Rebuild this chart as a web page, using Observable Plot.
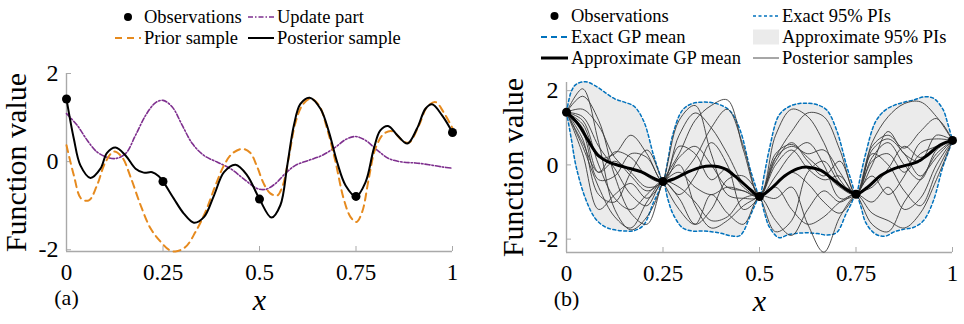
<!DOCTYPE html>
<html><head><meta charset="utf-8">
<script src="https://cdn.jsdelivr.net/npm/d3@7"></script>
<script src="https://cdn.jsdelivr.net/npm/@observablehq/plot@0.6"></script>
<style>
body{margin:0;background:#fff;}
#wrap{position:relative;width:964px;height:324px;font-family:"Liberation Serif",serif;background:#fff;overflow:hidden;}
#wrap svg, #wrap svg text{font-family:"Liberation Serif",serif !important;}
.panel{position:absolute;top:0;}
#legend{position:absolute;left:0;top:0;pointer-events:none;}
</style></head><body><div id="wrap"></div>
<script>
// ---------- data ----------
const xTicks = [0, 0.25, 0.5, 0.75, 1];
const yTicks = [-2, 0, 2];
const obsX = [0, 0.25, 0.5, 0.75, 1];
const obsY = [1.42, -0.45, -0.85, -0.79, 0.66];

// panel (a)
const postX = [0,0.019,0.036,0.062,0.088,0.105,0.127,0.153,0.179,0.2,0.222,0.239,0.25,0.278,0.304,0.33,0.356,0.382,0.408,0.438,0.468,0.5,0.531,0.554,0.572,0.589,0.606,0.63,0.658,0.68,0.701,0.723,0.75,0.775,0.796,0.813,0.833,0.857,0.883,0.908,0.93,0.947,0.973,1];
const postY = [1.42,0.52,-0.085,-0.37,-0.16,0.2,0.32,0.14,-0.16,-0.25,-0.24,-0.33,-0.45,-0.84,-1.18,-1.385,-1.26,-0.77,-0.24,-0.07,-0.31,-0.85,-1.27,-0.99,-0.085,0.82,1.31,1.45,1.2,0.67,-0.01,-0.54,-0.79,-0.46,0.29,0.71,0.81,0.6,0.41,0.75,1.2,1.3,1.05,0.66];
const priorX = [0,0.019,0.038,0.058,0.079,0.101,0.123,0.144,0.166,0.192,0.218,0.244,0.265,0.282,0.308,0.334,0.36,0.386,0.408,0.429,0.455,0.476,0.494,0.511,0.528,0.546,0.56,0.576,0.593,0.611,0.632,0.654,0.675,0.697,0.718,0.736,0.751,0.766,0.783,0.8,0.822,0.844,0.87,0.887,0.913,0.934,0.956,0.977,1];
const priorY = [0.37,-0.31,-0.84,-0.88,-0.54,-0.01,0.23,0.1,-0.35,-0.99,-1.52,-1.82,-2.0,-2.04,-1.94,-1.6,-1.14,-0.54,-0.085,0.18,0.29,0.2,-0.12,-0.5,-0.72,-0.77,-0.55,0.1,0.88,1.28,1.43,1.28,0.75,-0.01,-0.84,-1.26,-1.37,-1.14,-0.39,0.29,0.63,0.69,0.48,0.43,0.82,1.24,1.35,1.12,0.76];
const updateX = [0,0.028,0.054,0.079,0.105,0.127,0.153,0.179,0.205,0.231,0.25,0.274,0.3,0.326,0.356,0.39,0.425,0.459,0.494,0.516,0.541,0.567,0.593,0.628,0.662,0.697,0.723,0.749,0.775,0.805,0.835,0.87,0.904,0.939,0.973,1];
const updateY = [1.09,0.82,0.48,0.22,0.1,0.07,0.18,0.6,1.05,1.34,1.39,1.24,0.82,0.41,0.14,-0.01,-0.16,-0.39,-0.61,-0.63,-0.5,-0.27,-0.085,0.03,0.14,0.33,0.5,0.57,0.48,0.26,0.07,-0.01,-0.03,-0.07,-0.12,-0.15];

// panel (b)
const meanX = [0,0.03,0.056,0.082,0.108,0.151,0.194,0.228,0.25,0.28,0.315,0.349,0.375,0.409,0.444,0.478,0.5,0.53,0.565,0.599,0.625,0.659,0.694,0.728,0.75,0.78,0.815,0.849,0.884,0.909,0.935,0.97,1];
const meanY = [1.42,1.1,0.66,0.26,0.08,-0.06,-0.19,-0.37,-0.45,-0.37,-0.19,-0.06,-0.03,-0.1,-0.37,-0.68,-0.85,-0.64,-0.3,-0.1,-0.06,-0.15,-0.42,-0.68,-0.79,-0.6,-0.28,-0.1,0.0,0.08,0.26,0.55,0.66];
const piX = [0,0.0125,0.025,0.05,0.075,0.1,0.125,0.15,0.175,0.2,0.225,0.2375,0.25,0.2625,0.275,0.3,0.325,0.35,0.375,0.4,0.425,0.45,0.475,0.4875,0.5,0.5125,0.525,0.55,0.575,0.6,0.625,0.65,0.675,0.7,0.725,0.7375,0.75,0.7625,0.775,0.8,0.825,0.85,0.875,0.9,0.925,0.95,0.975,0.9875,1];
const piUpper = [1.42,1.98,2.17,2.24,2.13,1.95,1.78,1.69,1.58,1.18,0.28,-0.12,-0.45,0.12,0.8,1.47,1.65,1.69,1.68,1.61,1.44,0.93,-0.08,-0.5,-0.85,-0.25,0.4,1.33,1.56,1.65,1.66,1.62,1.47,0.93,0.0,-0.42,-0.79,-0.25,0.3,1.15,1.47,1.61,1.69,1.75,1.83,1.8,1.5,1.12,0.66];
const piLower = [1.42,0.7,-0.05,-0.93,-1.45,-1.67,-1.75,-1.78,-1.77,-1.62,-1.02,-0.75,-0.45,-0.92,-1.3,-1.69,-1.78,-1.78,-1.8,-1.84,-1.91,-1.9,-1.4,-1.1,-0.85,-1.28,-1.66,-1.96,-1.88,-1.84,-1.83,-1.85,-1.89,-1.82,-1.3,-1.05,-0.79,-1.12,-1.55,-1.86,-1.92,-1.8,-1.73,-1.68,-1.5,-0.98,-0.05,0.3,0.66];
const sampleX = [0,0.0417,0.0833,0.125,0.1667,0.2083,0.25,0.2917,0.3333,0.375,0.4167,0.4583,0.5,0.5417,0.5833,0.625,0.6667,0.7083,0.75,0.7917,0.8333,0.875,0.9167,0.9583,1];
const sample1 = [1.42,2.05,0.6,-1.2,-1.75,-1.4,-0.45,1.2,1.6,0.3,-0.8,-0.9,-0.85,0.8,1.5,1.3,0.6,-0.4,-0.79,0.6,1.3,1.65,1.7,1.3,0.66];
const sample2 = [1.42,1.85,1.2,-0.3,-1.3,-1.6,-0.45,0.3,1.2,1.6,1.75,0.4,-0.85,0.2,0.9,1.4,1.3,0.4,-0.79,0.5,0.8,0.45,0.9,1.25,0.66];
const sample3 = [1.42,1.5,1.05,0.2,-0.2,-0.6,-0.45,0.8,1.4,1.0,0.3,-0.5,-0.85,0.3,0.55,0.2,-0.2,-0.6,-0.79,0.4,0.7,0.3,-0.3,0.3,0.66];
const sample4 = [1.42,1.2,0.0,-0.9,-1.2,-0.8,-0.45,-0.9,-1.6,-1.2,-0.4,-0.3,-0.85,-1.8,-1.5,-0.2,0.1,-0.5,-0.79,-1.6,-1.8,-1.0,-0.4,0.2,0.66];
const sample5 = [1.42,0.9,-0.4,-0.3,0.3,0.2,-0.45,-0.3,0.2,1.0,1.5,0.5,-0.85,0.0,0.4,-0.1,-0.4,-0.3,-0.79,0.2,0.6,0.0,-0.4,0.4,0.66];
const sample6 = [1.42,0.7,-0.8,-1.0,-0.2,0.4,-0.45,-1.2,-1.6,-0.8,-1.3,-1.6,-0.85,-0.9,-0.6,-1.6,-2.35,-1.4,-0.79,-0.6,-0.1,0.5,0.2,0.5,0.66];
const sample7 = [1.42,1.0,-0.2,0.35,0.2,-0.3,-0.45,0.2,0.5,0.0,-0.6,-0.7,-0.85,0.2,0.5,0.3,0.4,-0.2,-0.79,0.3,0.0,-0.7,-1.1,-0.2,0.66];
const sample8 = [1.42,0.5,-0.6,-1.4,-1.7,-1.0,-0.45,-0.6,-1.0,-1.5,-1.4,-0.9,-0.85,-1.5,-1.9,-1.2,-0.7,-1.0,-0.79,-1.3,-1.5,-1.7,-1.3,-0.4,0.66];
const sample9 = [1.42,1.1,0.2,0.3,0.8,0.3,-0.45,0.5,0.3,-0.4,-0.1,-0.6,-0.85,-0.3,0.3,0.6,0.0,-0.9,-0.79,0.0,0.9,0.3,0.1,0.8,0.66];
const sample10 = [1.42,0.6,-0.2,0.1,-0.3,-0.7,-0.45,-0.2,-0.6,-0.8,-0.6,-0.7,-0.85,-0.5,-0.2,-0.5,-1.0,-1.3,-0.79,-0.3,-0.8,-0.3,0.6,0.7,0.66];
const sample11 = [1.42,1.3,0.5,-0.1,-0.8,-1.1,-0.45,-0.8,-0.3,0.6,0.0,-1.2,-0.85,0.1,0.6,0.1,-0.3,0.1,-0.79,0.1,0.3,-0.2,0.3,0.5,0.66];
const sample12 = [1.42,0.3,-1.2,-0.8,-0.5,-0.9,-0.45,0.0,-1.1,-1.7,-1.5,-1.1,-0.85,-0.6,-1.2,-1.6,-1.4,-1.0,-0.79,-1.0,-0.6,-1.2,-0.9,0.0,0.66];
const samples = [sample1,sample2,sample3,sample4,sample5,sample6,sample7,sample8,sample9,sample10,sample11,sample12];

// ---------- helpers ----------
const pts = (xs, ys) => xs.map((x, i) => ({x, y: ys[i]}));
const grey = "#a9a9a9";
const orange = "#e68a1e", purple = "#7e2f8e", blue = "#0072bd";
const font = "Liberation Serif";
const fmt = d => String(d);

function axes(yMin) {
  return [
    Plot.ruleY([yMin], {stroke: grey, strokeWidth: 1.4}),
    Plot.ruleX([0], {stroke: grey, strokeWidth: 1.4}),
    Plot.axisX(xTicks, {tickSize: -5, tickFormat: () => "", stroke: grey, label: null}),
    Plot.axisY(yTicks, {tickSize: -5, tickFormat: () => "", stroke: grey, label: null}),
    Plot.axisX(xTicks, {tickSize: 0, tickPadding: 12, tickFormat: fmt, fontSize: 23, fontFamily: font, label: null}),
    Plot.axisY(yTicks, {tickSize: 0, tickPadding: 8, tickFormat: fmt, fontSize: 24, fontFamily: font, label: null})
  ];
}
function labels(tag, dxY) {
  return [
    Plot.text(["Function value"], {frameAnchor: "left", textAnchor: "middle", rotate: -90, dx: dxY, fontSize: 30, fontFamily: font, fill: "black"}),
    Plot.text(["x"], {frameAnchor: "bottom", textAnchor: "middle", dy: 58, fontSize: 30, fontFamily: font, fontStyle: "italic", fill: "black"}),
    Plot.text([tag], {frameAnchor: "bottom-left", textAnchor: "middle", dy: 53, fontSize: 22, fontFamily: font, fill: "black"})
  ];
}

const wrap = document.getElementById("wrap");

// ---------- panel (a) ----------
const yMinA = -2.04;
const plotA = Plot.plot({
  width: 482, height: 324,
  marginLeft: 66, marginRight: 30, marginTop: 73, marginBottom: 73,
  x: {domain: [0, 1], label: null},
  y: {domain: [yMinA, 2], label: null},
  style: {fontFamily: font, fontSize: "24px", background: "transparent", color: "black", overflow: "visible"},
  marks: [
    ...axes(yMinA),
    Plot.line(pts(updateX, updateY), {x: "x", y: "y", stroke: purple, strokeWidth: 1.6, strokeDasharray: "5,2,1.5,2", curve: "catmull-rom"}),
    Plot.line(pts(priorX, priorY), {x: "x", y: "y", stroke: orange, strokeWidth: 2, strokeDasharray: "7,5", curve: "catmull-rom"}),
    Plot.line(pts(postX, postY), {x: "x", y: "y", stroke: "black", strokeWidth: 2, curve: "catmull-rom"}),
    Plot.dot(pts(obsX, obsY), {x: "x", y: "y", r: 4.5, fill: "black"}),
    ...labels("(a)", -50)
  ]
});
const divA = document.createElement("div");
divA.className = "panel"; divA.style.left = "0px";
divA.appendChild(plotA); wrap.appendChild(divA);

// ---------- panel (b) ----------
const yMinB = -2.36;
const bandRows = piX.map((x, i) => ({x, lo: piLower[i], hi: piUpper[i]}));
const sampleRows = samples.flatMap((s, k) => s.map((y, i) => ({x: sampleX[i], y, id: k})));
const plotB = Plot.plot({
  width: 482, height: 324,
  marginLeft: 84, marginRight: 12, marginTop: 82, marginBottom: 72,
  x: {domain: [0, 1], label: null},
  y: {domain: [yMinB, 2.22], label: null},
  style: {fontFamily: font, fontSize: "24px", background: "transparent", color: "black", overflow: "visible"},
  marks: [
    Plot.areaY(bandRows, {x: "x", y1: "lo", y2: "hi", fill: "#ebebeb", curve: "catmull-rom"}),
    ...axes(yMinB),
    Plot.line(bandRows, {x: "x", y: "hi", stroke: blue, strokeWidth: 1.5, strokeDasharray: "3,2.5", curve: "catmull-rom"}),
    Plot.line(bandRows, {x: "x", y: "lo", stroke: blue, strokeWidth: 1.5, strokeDasharray: "3,2.5", curve: "catmull-rom"}),
    Plot.line(sampleRows, {x: "x", y: "y", z: "id", stroke: "#3a3a3a", strokeWidth: 0.9, curve: "catmull-rom"}),
    Plot.line(pts(meanX, meanY), {x: "x", y: "y", stroke: blue, strokeWidth: 1.5, strokeDasharray: "6,4", curve: "catmull-rom"}),
    Plot.line(pts(meanX, meanY), {x: "x", y: "y", stroke: "black", strokeWidth: 3, curve: "catmull-rom"}),
    Plot.dot(pts(obsX, obsY), {x: "x", y: "y", r: 4.5, fill: "black"}),
    ...labels("(b)", -53)
  ]
});
const divB = document.createElement("div");
divB.className = "panel"; divB.style.left = "482px";
divB.appendChild(plotB); wrap.appendChild(divB);

// ---------- legends ----------
const lg = d3.select(wrap).append("svg").attr("id", "legend").attr("width", 964).attr("height", 324)
  .style("font-size", "18.5px");
function item(x0, x1, y, text, kind, opts = {}) {
  if (kind === "dot") lg.append("circle").attr("cx", (x0 + x1) / 2).attr("cy", y).attr("r", 4).attr("fill", "black");
  else if (kind === "rect") lg.append("rect").attr("x", x0).attr("y", y - 7.5).attr("width", x1 - x0).attr("height", 15).attr("fill", "#ebebeb");
  else lg.append("line").attr("x1", x0).attr("x2", x1).attr("y1", y).attr("y2", y)
      .attr("stroke", opts.stroke).attr("stroke-width", opts.width || 1.5).attr("stroke-dasharray", opts.dash || null);
  lg.append("text").attr("x", x1 + 3).attr("y", y).attr("dy", "0.33em").attr("fill", "black").text(text);
}
// (a)
item(115, 141, 17, "Observations", "dot");
item(248, 274, 17, "Update part", "line", {stroke: purple, width: 1.6, dash: "5,2,1.5,2"});
item(115, 141, 38, "Prior sample", "line", {stroke: orange, width: 2, dash: "7,5"});
item(248, 274, 38, "Posterior sample", "line", {stroke: "black", width: 2});
// (b)
item(541, 568, 16, "Observations", "dot");
item(753, 779, 16, "Exact 95% PIs", "line", {stroke: blue, width: 1.5, dash: "3,2.5"});
item(541, 568, 37, "Exact GP mean", "line", {stroke: blue, width: 1.8, dash: "6,4"});
item(753, 779, 37, "Approximate 95% PIs", "rect");
item(541, 568, 58, "Approximate GP mean", "line", {stroke: "black", width: 3});
item(753, 779, 58, "Posterior samples", "line", {stroke: "#3a3a3a", width: 0.9});
</script>
</body></html>
